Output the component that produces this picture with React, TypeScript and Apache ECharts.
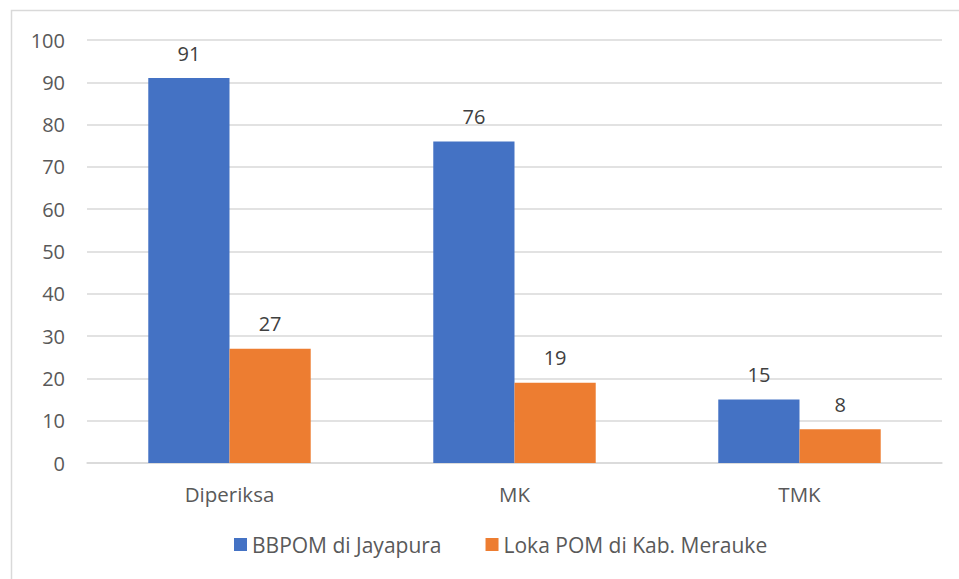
import React, { useEffect, useRef } from "react";
import * as echarts from "echarts";

const categories = ["Diperiksa", "MK", "TMK"];
const seriesNames = ["BBPOM di Jayapura", "Loka POM di Kab. Merauke"];
const bbpomValues = [91, 76, 15];
const lokaValues = [27, 19, 8];
const colors = ["#4472C4", "#ED7D31"];

export default function App() {
  const ref = useRef<HTMLDivElement>(null);
  useEffect(() => {
    document.body.style.margin = "0";
    const chart = echarts.init(ref.current!, null, { renderer: "svg" });
    const font = "'Open Sans', sans-serif";
    const labelStyle = { show: true, position: "top", color: "#404040", fontSize: 20, fontFamily: font, distance: 15 };
    chart.setOption({
      animation: false,
      backgroundColor: "#ffffff",
      graphic: [
        {
          type: "rect",
          shape: { x: 11.5, y: 10.5, width: 960, height: 600 },
          style: { fill: "none", stroke: "#d9d9d9", lineWidth: 1.5 },
          silent: true,
        },
      ],
      grid: { left: 87, right: 17, top: 40, bottom: 116, containLabel: false },
      legend: {
        bottom: 19,
        left: 229,
        itemWidth: 13,
        itemHeight: 13,
        itemGap: 44,
        icon: "rect",
        textStyle: { color: "#595959", fontSize: 21, fontFamily: font },
        data: seriesNames,
      },
      xAxis: {
        type: "category",
        data: categories,
        axisLine: { lineStyle: { color: "#d9d9d9", width: 1.5 } },
        axisTick: { show: false },
        axisLabel: { color: "#595959", fontSize: 20.5, fontFamily: font, margin: 20 },
      },
      yAxis: {
        type: "value",
        min: 0,
        max: 100,
        interval: 10,
        axisLine: { show: false },
        axisTick: { show: false },
        axisLabel: { color: "#595959", fontSize: 20, fontFamily: font, margin: 22 },
        splitLine: { lineStyle: { color: "#d9d9d9", width: 1.5 } },
      },
      series: [
        {
          name: seriesNames[0],
          type: "bar",
          data: bbpomValues,
          itemStyle: { color: colors[0] },
          barGap: "0%",
          barCategoryGap: "43%",
          label: labelStyle,
        },
        {
          name: seriesNames[1],
          type: "bar",
          data: lokaValues,
          itemStyle: { color: colors[1] },
          barGap: "0%",
          barCategoryGap: "43%",
          label: labelStyle,
        },
      ],
    });
    return () => chart.dispose();
  }, []);
  return <div ref={ref} style={{ position: "absolute", left: 0, top: 0, width: 959, height: 579 }} />;
}
